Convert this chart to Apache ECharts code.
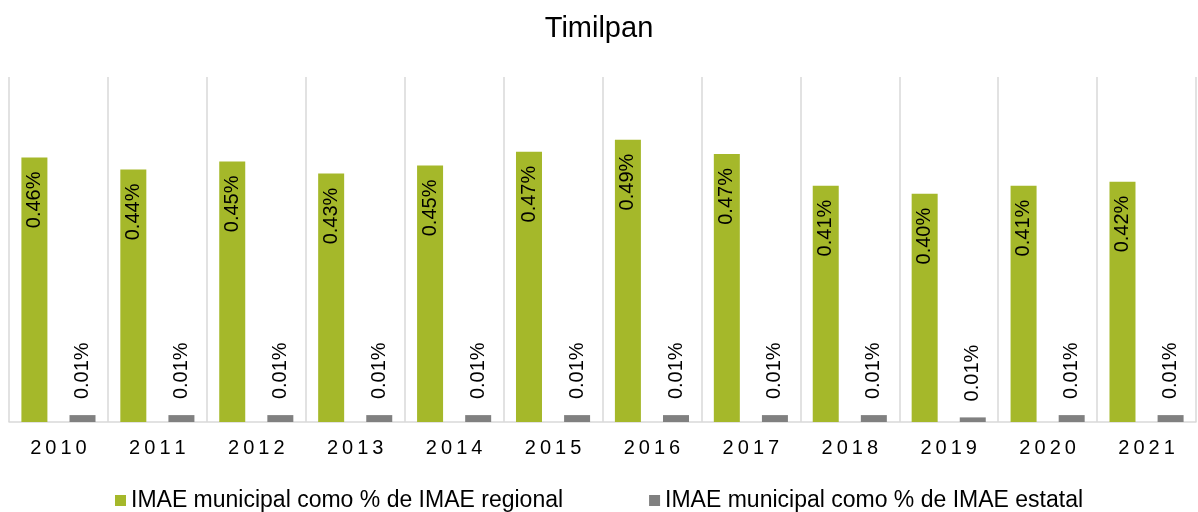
<!DOCTYPE html>
<html>
<head>
<meta charset="utf-8">
<title>Timilpan</title>
<script src="https://cdn.jsdelivr.net/npm/echarts@6/dist/echarts.min.js"></script>
<style>
  html, body { margin: 0; padding: 0; background: #fff; }
  #chart { width: 1198px; height: 512px; }
</style>
</head>
<body>
<div id="chart"></div>
<script>
// datos
var years = ['2010', '2011', '2012', '2013', '2014', '2015', '2016', '2017', '2018', '2019', '2020', '2021']
var regional = [0.46, 0.439, 0.453, 0.432, 0.446, 0.47, 0.491, 0.466, 0.411, 0.397, 0.411, 0.418]
var estatal = [0.012, 0.012, 0.012, 0.012, 0.012, 0.012, 0.012, 0.012, 0.012, 0.008, 0.012, 0.012]
var seriesNames = ['IMAE municipal como % de IMAE regional', 'IMAE municipal como % de IMAE estatal']

var chart = echarts.init(document.getElementById('chart'))

var fmt = function(p) {
  return p.value.toFixed(2) + '%'
}

chart.setOption({
  animation: false,
  textStyle: { fontFamily: 'Liberation Sans, Arial, sans-serif' },
  title: {
    text: 'Timilpan',
    left: 'center',
    top: 9,
    textStyle: { fontSize: 29, fontWeight: 'normal', color: '#000' }
  },
  legend: {
    data: seriesNames,
    left: 110,
    top: 484,
    icon: 'rect',
    itemWidth: 11,
    itemHeight: 11,
    itemGap: 86,
    textStyle: { fontSize: 23, color: '#000' }
  },
  grid: {
    left: 9,
    right: 2,
    top: 77,
    bottom: 90,
    containLabel: false
  },
  xAxis: {
    type: 'category',
    data: years,
    axisLine: { lineStyle: { color: '#d9d9d9', width: 1.5 } },
    axisTick: { show: false },
    axisLabel: {
      fontSize: 20,
      color: '#000',
      margin: 16,
      formatter: function(v) {
        return v.split('').join('\u2009')
      }
    },
    splitLine: {
      show: true,
      lineStyle: { color: '#d9d9d9', width: 1.5 }
    }
  },
  yAxis: {
    type: 'value',
    min: 0,
    max: 0.6,
    show: false
  },
  series: [
    {
      name: seriesNames[0],
      type: 'bar',
      data: regional,
      barWidth: 26,
      barGap: '85%',
      itemStyle: { color: '#a5b82a' },
      label: {
        show: true,
        position: 'insideTop',
        distance: 14,
        rotate: 90,
        align: 'right',
        verticalAlign: 'middle',
        fontSize: 20,
        color: '#000',
        formatter: fmt
      }
    },
    {
      name: seriesNames[1],
      type: 'bar',
      data: estatal,
      barWidth: 26,
      itemStyle: { color: '#808080' },
      label: {
        show: true,
        position: 'top',
        distance: 16,
        rotate: 90,
        align: 'left',
        verticalAlign: 'middle',
        fontSize: 20,
        color: '#000',
        formatter: fmt
      }
    }
  ]
})
</script>
</body>
</html>
